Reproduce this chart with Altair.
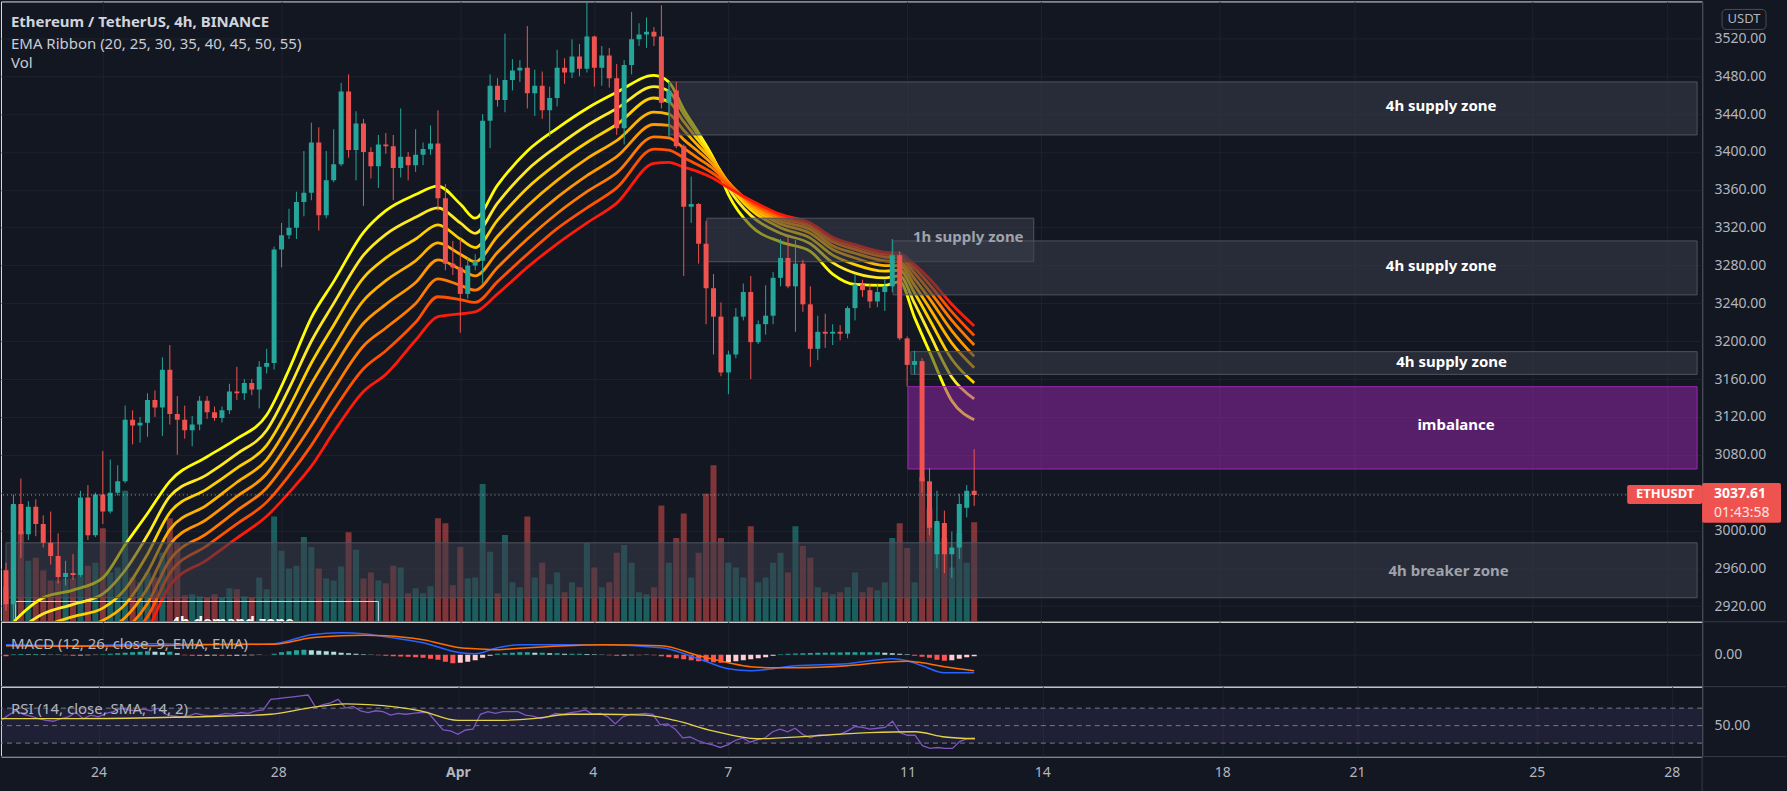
import altair as alt
import pandas as pd

# ---------------- values ----------------
candle_open = [2958,2922,3028,2996,3025,3007,2987,2973,2951,2955,
               2953,3035,2995,3038,3020,3040,3052,3117,3111,3114,
               3138,3130,3170,3123,3117,3106,3112,3137,3125,3119,
               3127,3147,3145,3156,3149,3173,3177,3297,3312,3320,
               3347,3357,3410,3333,3370,3387,3464,3402,3430,3400,
               3385,3408,3406,3383,3395,3386,3397,3403,3409,3351,
               3282,3278,3250,3280,3285,3433,3470,3455,3476,3486,
               3489,3462,3470,3444,3457,3489,3484,3501,3488,3522,
               3489,3502,3478,3425,3492,3519,3524,3527,3522,3452,
               3465,3406,3342,3345,3303,3256,3226,3167,3186,3226,
               3252,3199,3218,3227,3267,3288,3258,3282,3239,3192,
               3210,3208,3210,3208,3235,3260,3254,3242,3252,3258,
               3291,3203,3175,3179,3052,2975,3008,2975,2982,3024,
               3042]
candle_high = [2966,3038,3055,3031,3033,3016,3020,2997,2968,2975,
               3042,3048,3040,3084,3075,3069,3132,3127,3120,3145,
               3148,3183,3196,3142,3132,3121,3142,3142,3131,3131,
               3155,3173,3160,3160,3179,3192,3300,3325,3340,3358,
               3401,3431,3426,3401,3424,3473,3482,3443,3435,3405,
               3418,3420,3418,3446,3400,3424,3410,3428,3444,3366,
               3306,3308,3288,3292,3440,3482,3478,3525,3498,3497,
               3533,3487,3485,3469,3508,3499,3519,3514,3559,3523,
               3512,3510,3493,3497,3548,3536,3542,3532,3555,3474,
               3474,3408,3374,3346,3327,3271,3241,3190,3235,3261,
               3269,3222,3259,3273,3308,3310,3307,3286,3258,3227,
               3229,3218,3217,3237,3271,3265,3261,3261,3265,3308,
               3295,3205,3190,3182,3066,3042,3021,2999,3039,3048,
               3086]
candle_low = [2915,2905,2971,2990,2994,2982,2964,2944,2942,2948,
              2951,2990,2993,3007,3018,3037,3050,3091,3093,3099,
              3120,3100,3112,3080,3097,3089,3106,3118,3116,3114,
              3123,3138,3138,3143,3129,3166,3170,3278,3308,3308,
              3332,3349,3317,3330,3368,3385,3394,3370,3343,3372,
              3362,3398,3349,3373,3370,3379,3386,3397,3338,3275,
              3270,3209,3245,3275,3261,3404,3448,3442,3465,3474,
              3446,3438,3435,3416,3448,3472,3478,3480,3484,3469,
              3470,3468,3418,3408,3482,3512,3510,3512,3446,3416,
              3404,3269,3325,3282,3218,3186,3163,3144,3182,3222,
              3160,3197,3207,3218,3258,3256,3210,3231,3173,3180,
              3193,3196,3201,3203,3222,3247,3235,3236,3232,3252,
              3201,3152,3165,3040,2995,2960,2955,2950,2970,3014,
              3026]
candle_close = [2922,3028,2996,3025,3007,2987,2973,2951,2955,2953,
                3035,2995,3038,3020,3040,3052,3117,3111,3114,3138,
                3130,3170,3123,3117,3106,3112,3137,3125,3119,3127,
                3147,3145,3156,3149,3173,3177,3297,3312,3320,3347,
                3357,3410,3333,3370,3387,3464,3402,3430,3400,3385,
                3408,3406,3383,3395,3386,3397,3403,3409,3351,3282,
                3278,3250,3280,3285,3433,3470,3455,3476,3486,3489,
                3462,3470,3444,3457,3489,3484,3501,3488,3522,3489,
                3502,3478,3425,3492,3519,3524,3527,3522,3452,3465,
                3406,3342,3345,3303,3256,3226,3167,3186,3226,3252,
                3199,3218,3227,3267,3288,3258,3282,3239,3192,3210,
                3208,3210,3208,3235,3260,3254,3242,3252,3258,3291,
                3203,3175,3179,3052,3003,3010,2975,2982,3028,3042,
                3037.61]
volume_k = [35,118,92,62,65,52,42,42,44,44, 75,57,60,95,50,55,133,45,40,50,
            45,70,105,80,27,28,26,24,28,24, 34,33,26,24,45,33,107,72,54,57,
            86,76,54,44,42,56,91,73,44,50, 42,39,57,55,29,34,29,36,105,100,
            37,76,44,45,140,71,29,88,40,35, 107,45,60,38,50,30,40,35,80,55,
            35,40,70,78,60,30,28,35,118,60, 85,110,45,70,130,159,85,60,55,45,
            97,40,45,60,70,50,97,77,65,35, 30,28,30,35,50,30,35,32,40,85,
            100,75,40,147,115,100,85,55,90,60, 101]

ema_names = ["EMA 20", "EMA 25", "EMA 30", "EMA 35", "EMA 40", "EMA 45", "EMA 50", "EMA 55"]
ema_colors = ["#ffff00", "#ffe824", "#ffd000", "#ffb300", "#ff9800", "#ff7a00", "#ff5200", "#ff1a0a"]
ema_key_bars = [0,5,9,13,16,19,22,27,31,35,38,41,44,48,51,55,58,61,63,66,70,74,78,82,87,89,91,93,95,97,
                100,104,108,111,114,118,120,122,124,127,130]
ema20 = [2895,2929,2937,2950,2985,3018,3052,3078,3097,3122,3170,3225,3263,3315,3338,3355,3364,3345,3330,3365,
         3401,3425,3446,3463,3481,3474,3445,3420,3393,3355,3322,3305,3295,3271,3260,3259,3263,3225,3189,3137,3117]
ema25 = [2884,2912,2922,2933,2958,2995,3036,3059,3081,3106,3150,3200,3240,3291,3313,3331,3341,3325,3314,3346,
         3381,3406,3428,3446,3469,3464,3440,3417,3393,3362,3333,3314,3303,3283,3272,3267,3269,3240,3208,3162,3139]
ema30 = [2873,2898,2909,2918,2938,2975,3019,3044,3066,3090,3130,3177,3217,3267,3288,3308,3323,3308,3299,3328,
         3362,3388,3410,3429,3457,3453,3432,3412,3392,3366,3339,3320,3309,3291,3281,3274,3275,3251,3223,3181,3156]
ema35 = [2863,2886,2897,2905,2922,2956,3001,3027,3051,3075,3112,3155,3194,3243,3264,3285,3304,3292,3284,3311,
         3343,3370,3393,3412,3442,3440,3423,3406,3390,3368,3342,3324,3314,3297,3288,3280,3280,3259,3235,3198,3172]
ema40 = [2854,2876,2886,2893,2908,2939,2985,3012,3036,3060,3094,3133,3172,3219,3239,3262,3286,3276,3269,3294,
         3325,3352,3375,3395,3429,3428,3413,3400,3386,3368,3344,3327,3318,3301,3293,3285,3284,3266,3245,3211,3184]
ema45 = [2846,2867,2876,2882,2895,2923,2969,2997,3021,3045,3076,3111,3149,3195,3214,3240,3266,3259,3254,3278,
         3308,3335,3358,3378,3416,3415,3404,3393,3382,3367,3346,3330,3321,3305,3297,3289,3288,3272,3253,3222,3196]
ema50 = [2838,2859,2867,2872,2884,2909,2955,2984,3007,3030,3058,3090,3127,3171,3190,3220,3247,3244,3241,3263,
         3292,3319,3341,3362,3403,3402,3394,3386,3377,3365,3347,3332,3323,3308,3300,3292,3291,3277,3260,3231,3206]
ema55 = [2830,2851,2859,2863,2874,2896,2942,2969,2992,3015,3040,3068,3104,3147,3165,3201,3226,3229,3231,3250,
         3278,3303,3325,3346,3388,3389,3384,3379,3372,3362,3349,3334,3325,3310,3302,3294,3293,3281,3266,3239,3216]
ema_series = [ema20, ema25, ema30, ema35, ema40, ema45, ema50, ema55]

macd_hist = [-3, 1,1.5,1,1.5,1,0.5,0.3, -1,-2,-1.5,-1,-0.5,
             1,2,3,4,5,6,7,6,5,6,3,
             -1,-2,-2.5,-2,-1.5,-2,-2.5,-2,-1.5,-1,-0.5,-0.3,
             2,5,7,9,10,9,8,7,6,4,3,2,
             1,0.5,-1,-2,-3,-3.5,-4,-5,-6,-8,-10,-14,-17,-16,-14,-11,-6,-2,
             2,3,4,5,5,4,4,3,3,2,2,2,1.5,1,0.5,
             -1,-2,-1.5,-1,-1,-0.5,-1,
             -3,-5,-7,-9,-11,-13,-14,-15,-16,-15,
             -13,-11,-9,-7,-5,-2,
             1,2,2.5,3,3.5,4,4,4.5,4.5,5,5,5,5,5,4,3,2,1,
             -2,-4,-6,-10,-12,-11,
             -8,-5,-3]
macd_key_bars = [0,10,20,30,36,41,45,48,51,56,61,63,66,69,77,80,88,93,97,100,103,106,113,119,121,123,126,130]
macd_line = [20,18,22,20,22,40,44,42,36,24,4,2,14,20,20,20,14,-8,-28,-32,-28,-22,-18,-8,-12,-22,-36,-36]
macd_signal = [18,17,18,21,21,34,38,39,38,30,14,12,10,13,19,20,18,-2,-16,-24,-26,-26,-22,-14,-13,-16,-24,-32]

rsi_values = [56,62,67,63,61,58,56,55,58,60, 65,58,62,60,64,66,70,68,67,69,
              67,70,63,61,60,61,64,62,61,62, 64,63,65,64,67,68,80,81,82,83,
              84,85,71,74,76,80,70,72,67,65, 67,66,62,64,63,64,65,65,55,45,
              44,40,45,46,63,66,64,66,66,66, 62,61,58,60,64,63,65,66,68,63,
              64,60,52,60,63,63,64,63,51,52, 46,36,37,33,30,28,25,28,33,36,
              31,34,36,43,46,43,47,40,36,39, 39,40,40,44,49,48,46,47,48,55,
              42,39,39,27,24,25,24,24,32,35, 36]
rsi_ma_key_bars = [0,10,20,30,36,41,46,49,56,61,66,71,76,80,86,90,95,101,108,116,122,126,130]
rsi_ma = [58,58,59,61,63,70,75,74,67,56,56,58,63,63,62,56,44,35,38,42,43,37,35]
rsi_levels = [70, 50, 30]

x_tick_bars = [13, 37, 61, 79, 97, 121, 139, 163, 181, 205, 223]
x_tick_labels = ["24", "28", "Apr", "4", "7", "11", "14", "18", "21", "25", "28"]
price_ticks = list(range(2920, 3521, 40))
last_price = 3037.61

X_END = 1703 / 7.5
zone_start = [89.1, 94.1, 119.1, 121.5, 0.0]
zone_end = [X_END, 138.0, X_END, X_END, X_END]
zone_low = [3418, 3284, 3249, 3165, 2929]
zone_high = [3474, 3330, 3306, 3189, 2987]
imb_start, imb_end, imb_low, imb_high = 121.1, X_END, 3065, 3152
demand_start, demand_end, demand_top = 1.3, 50.0, 2925

zone_label_text = ["4h supply zone", "1h supply zone", "4h supply zone", "4h supply zone", "imbalance", "4h breaker zone"]
zone_label_bar = [192.7, 129.2, 192.7, 194.1, 194.7, 193.7]
zone_label_price = [3449, 3310, 3280, 3178, 3111, 2957]
zone_label_color = ["#ffffff", "#9fa2ab", "#ffffff", "#ffffff", "#ffffff", "#9fa2ab"]

# ---------------- style ----------------
BG = "#131722"
GRID = "#1e222d"
SEP = "#363a45"
TXT = "#b2b5be"
UP = "#26a69a"
DOWN = "#ef5350"
FONT = "Noto Sans"
W = 1703
H_MAIN, H_MACD, H_RSI = 621, 65, 70

# ---------------- tables ----------------
n = len(candle_open)
cdf = pd.DataFrame({"i": list(range(n)), "open": candle_open, "high": candle_high,
                    "low": candle_low, "close": candle_close, "vol": volume_k})
cdf["dir"] = ["up" if c >= o else "down" for o, c in zip(candle_open, candle_close)]

rows = []
for name, vals in zip(ema_names, ema_series):
    for b, v in zip(ema_key_bars, vals):
        rows.append({"i": b, "v": v, "ema": name})
edf = pd.DataFrame(rows)

zdf = pd.DataFrame({"x0": zone_start, "x1": zone_end, "lo": zone_low, "hi": zone_high})
idf = pd.DataFrame({"x0": [imb_start], "x1": [imb_end], "lo": [imb_low], "hi": [imb_high]})
ddf = pd.DataFrame({"x0": [demand_start], "x1": [demand_end], "lo": [2860], "hi": [demand_top]})
ldf = pd.DataFrame({"i": zone_label_bar, "p": zone_label_price, "t": zone_label_text, "c": zone_label_color})
pdf_ = pd.DataFrame({"p": [last_price]})
one = pd.DataFrame({"k": [0]})

cats = []
prev = 0
for h in macd_hist:
    if h >= 0:
        cats.append("pu" if h >= prev else "pd")
    else:
        cats.append("nd" if h <= prev else "nu")
    prev = h
hdf = pd.DataFrame({"i": list(range(n)), "h": macd_hist, "cat": cats})
mdf = pd.DataFrame({"i": macd_key_bars, "m": macd_line, "s": macd_signal})
rdf = pd.DataFrame({"i": list(range(n)), "r": rsi_values})
rmdf = pd.DataFrame({"i": rsi_ma_key_bars, "r": rsi_ma})
lvdf = pd.DataFrame({"lvl": rsi_levels})
banddf = pd.DataFrame({"hi": [70], "lo": [30]})

# ---------------- scales / axes ----------------
xs = alt.Scale(domain=[0, X_END], nice=False, zero=False)
ps = alt.Scale(domain=[2903.6, 3559.05], nice=False, zero=False)
x_grid_axis = alt.Axis(values=x_tick_bars, labels=False, ticks=False, domain=False,
                       grid=True, gridColor=GRID, title=None)
label_expr = " : ".join(f"datum.value == {v} ? '{t}'" for v, t in zip(x_tick_bars, x_tick_labels)) + " : ''"
x_bottom_axis = alt.Axis(values=x_tick_bars, labelExpr=label_expr, ticks=False, domain=False,
                         grid=True, gridColor=GRID, title=None, labelPadding=9,
                         labelFontSize=14, labelColor=TXT, labelFont=FONT,
                         labelFontWeight={"condition": {"test": "datum.value == 61", "value": "bold"}, "value": "normal"})
p_axis = alt.Axis(orient="right", values=price_ticks,
                  labelExpr="datum.value == 3040 ? '' : format(datum.value, '.2f')",
                  grid=True, gridColor=GRID, ticks=False, domain=True, domainColor=SEP,
                  labelPadding=12, labelFontSize=14, labelColor=TXT, labelFont=FONT, title=None)

X = alt.X("i:Q", scale=xs, axis=x_grid_axis)


def PY(field):
    return alt.Y(field, scale=ps, axis=p_axis)


def PX(field):
    return alt.X(field, scale=xs, axis=x_grid_axis)


# ---------------- main panel ----------------
vol_up = alt.Chart(cdf).transform_filter("datum.dir == 'up'").mark_bar(
    width=6, clip=True, color=UP, opacity=0.5).encode(
    x=X, y=alt.Y("vol:Q", scale=alt.Scale(domain=[0, 630], nice=False), axis=None))
vol_dn = alt.Chart(cdf).transform_filter("datum.dir == 'down'").mark_bar(
    width=6, clip=True, color=DOWN, opacity=0.5).encode(
    x=X, y=alt.Y("vol:Q", scale=alt.Scale(domain=[0, 630], nice=False), axis=None))
vol_layer = alt.layer(vol_up, vol_dn)

ribbon = alt.Chart(edf).mark_line(clip=True, strokeWidth=2.8, interpolate="monotone").encode(
    x=X, y=PY("v:Q"),
    color=alt.Color("ema:N", scale=alt.Scale(domain=ema_names, range=ema_colors), legend=None),
    order=alt.Order("i:Q"))

zones = alt.Chart(zdf).mark_rect(clip=True, fill="#3a3e4a", fillOpacity=0.55,
                                 stroke="#50535e", strokeWidth=1).encode(
    x=PX("x0:Q"), x2="x1:Q", y=PY("lo:Q"), y2="hi:Q")
imb = alt.Chart(idf).mark_rect(clip=True, fill="#9c27b0", fillOpacity=0.5,
                               stroke="#9c27b0", strokeWidth=1).encode(
    x=PX("x0:Q"), x2="x1:Q", y=PY("lo:Q"), y2="hi:Q")
demand = alt.Chart(ddf).mark_rect(clip=True, fillOpacity=0, stroke="#d1d4dc", strokeWidth=1).encode(
    x=PX("x0:Q"), x2="x1:Q", y=PY("lo:Q"), y2="hi:Q")
demand_txt = alt.Chart(one).mark_text(clip=True, text="4h demand zone", fontSize=15, fontWeight="bold",
                                      color="#ffffff", baseline="top", align="center").encode(
    x=alt.value(232), y=alt.value(614))

wick_up = alt.Chart(cdf).transform_filter("datum.dir == 'up'").mark_rule(
    clip=True, color=UP, strokeWidth=1).encode(x=X, y=PY("low:Q"), y2="high:Q")
wick_dn = alt.Chart(cdf).transform_filter("datum.dir == 'down'").mark_rule(
    clip=True, color=DOWN, strokeWidth=1).encode(x=X, y=PY("low:Q"), y2="high:Q")
body_up = alt.Chart(cdf).transform_filter("datum.dir == 'up'").mark_bar(
    width=5, clip=True, color=UP).encode(x=X, y=PY("open:Q"), y2="close:Q")
body_dn = alt.Chart(cdf).transform_filter("datum.dir == 'down'").mark_bar(
    width=5, clip=True, color=DOWN).encode(x=X, y=PY("open:Q"), y2="close:Q")

zone_labels = alt.Chart(ldf).mark_text(fontSize=15, fontWeight="bold", align="center", baseline="middle").encode(
    x=PX("i:Q"), y=PY("p:Q"), text="t:N", color=alt.Color("c:N", scale=None, legend=None))

price_line = alt.Chart(pdf_).mark_rule(strokeDash=[1, 3], color="#c9cbd2", strokeWidth=1, opacity=0.8).encode(
    y=PY("p:Q"))


def txt(text, x, y, size=15, weight="normal", color="#c9ccd4", align="left"):
    return alt.Chart(one).mark_text(text=text, fontSize=size, fontWeight=weight, color=color,
                                    align=align, baseline="middle").encode(x=alt.value(x), y=alt.value(y))


def box(x0, x1, y0, y1, fill, stroke=None, radius=2, opacity=1.0):
    kw = dict(fill=fill, cornerRadius=radius, fillOpacity=opacity)
    if stroke:
        kw.update(stroke=stroke, strokeWidth=1)
    return alt.Chart(one).mark_rect(**kw).encode(
        x=alt.value(x0), x2=alt.value(x1), y=alt.value(y0), y2=alt.value(y1))


title1 = txt("Ethereum / TetherUS, 4h, BINANCE", 10, 21, 15, "bold", "#d1d4dc")
title2 = txt("EMA Ribbon (20, 25, 30, 35, 40, 45, 50, 55)", 10, 43, 15)
title3 = txt("Vol", 10, 62, 15)
eth_box = box(1628, 1703, 484, 503, DOWN)
eth_txt = txt("ETHUSDT", 1666, 493.5, 13, "bold", "#ffffff", "center")
pr_box = box(1703, 1782, 482, 522, DOWN)
pr_txt = txt("3037.61", 1715, 493, 14, "bold", "#ffffff")
cd_txt = txt("01:43:58", 1715, 512, 14, "normal", "#ffe3e3")
usdt_box = box(1723, 1767, 8, 28, BG, "#4a4e5a", 4)
usdt_txt = txt("USDT", 1745, 18, 13, "normal", TXT, "center")
sep_main = alt.Chart(one).mark_rule(color=SEP, strokeWidth=1).encode(
    x=alt.value(0), x2=alt.value(1787), y=alt.value(H_MAIN))

price_group = alt.layer(ribbon, zones, imb, demand, demand_txt, wick_up, wick_dn, body_up, body_dn,
                        zone_labels, price_line, title1, title2, title3,
                        eth_box, eth_txt, pr_box, pr_txt, cd_txt, usdt_box, usdt_txt, sep_main)
main = alt.layer(vol_layer, price_group).resolve_scale(y="independent").properties(width=W, height=H_MAIN)

# ---------------- MACD panel ----------------
ms = alt.Scale(domain=[-64, 66], nice=False, zero=False)
m_axis = alt.Axis(orient="right", values=[0], format=".2f", grid=True, gridColor=GRID, ticks=False,
                  domain=True, domainColor=SEP, labelPadding=12, labelFontSize=14, labelColor=TXT,
                  labelFont=FONT, title=None)
hist = alt.Chart(hdf).mark_bar(width=5, clip=True).encode(
    x=X, y=alt.Y("h:Q", scale=ms, axis=m_axis), y2=alt.datum(0),
    color=alt.Color("cat:N", scale=alt.Scale(domain=["pu", "pd", "nd", "nu"],
                                             range=["#26a69a", "#b2dfdb", "#ff5252", "#ffcdd2"]), legend=None))
macd_l = alt.Chart(mdf).mark_line(clip=True, strokeWidth=1.5, interpolate="monotone", color="#2962ff").encode(
    x=X, y=alt.Y("m:Q", scale=ms, axis=m_axis))
sig_l = alt.Chart(mdf).mark_line(clip=True, strokeWidth=1.5, interpolate="monotone", color="#ff6d00").encode(
    x=X, y=alt.Y("s:Q", scale=ms, axis=m_axis))
macd_txt = txt("MACD (12, 26, close, 9, EMA, EMA)", 10, 22, 15, "normal", TXT)
sep_macd = alt.Chart(one).mark_rule(color=SEP, strokeWidth=1).encode(
    x=alt.value(0), x2=alt.value(1787), y=alt.value(H_MACD))
macd = alt.layer(hist, macd_l, sig_l, macd_txt, sep_macd).properties(width=W, height=H_MACD)

# ---------------- RSI panel ----------------
rs = alt.Scale(domain=[14.57, 94.57], nice=False, zero=False)
r_axis = alt.Axis(orient="right", values=[50], format=".2f", grid=False, ticks=False,
                  domain=True, domainColor=SEP, labelPadding=12, labelFontSize=14, labelColor=TXT,
                  labelFont=FONT, title=None)
XB = alt.X("i:Q", scale=xs, axis=x_bottom_axis)
band = alt.Chart(banddf).mark_rect(fill="#7e57c2", fillOpacity=0.12).encode(
    x=alt.value(0), x2=alt.value(W), y=alt.Y("hi:Q", scale=rs, axis=r_axis), y2="lo:Q")
levels = alt.Chart(lvdf).mark_rule(strokeDash=[5, 4], color="#787b86", strokeWidth=1).encode(
    y=alt.Y("lvl:Q", scale=rs, axis=r_axis))
rsi_l = alt.Chart(rdf).mark_line(clip=True, strokeWidth=1.3, color="#7e57c2").encode(
    x=XB, y=alt.Y("r:Q", scale=rs, axis=r_axis))
rsi_ma_l = alt.Chart(rmdf).mark_line(clip=True, strokeWidth=1.3, color="#e4d34a", interpolate="monotone").encode(
    x=XB, y=alt.Y("r:Q", scale=rs, axis=r_axis))
rsi_txt = txt("RSI (14, close, SMA, 14, 2)", 10, 22, 15, "normal", TXT)
sep_rsi = alt.Chart(one).mark_rule(color=SEP, strokeWidth=1).encode(
    x=alt.value(0), x2=alt.value(1787), y=alt.value(H_RSI))
axis_ext = alt.Chart(one).mark_rule(color=SEP, strokeWidth=1).encode(
    x=alt.value(W), y=alt.value(H_RSI), y2=alt.value(105))
rsi = alt.layer(band, levels, rsi_l, rsi_ma_l, rsi_txt, sep_rsi, axis_ext).properties(width=W, height=H_RSI)

chart = alt.vconcat(main, macd, rsi, spacing=0, bounds="flush").resolve_scale(
    color="independent").properties(padding=0, background=BG).configure_view(stroke=None).configure(font=FONT)

chart.save("out.html", embed_options={"renderer": "svg", "actions": False})
